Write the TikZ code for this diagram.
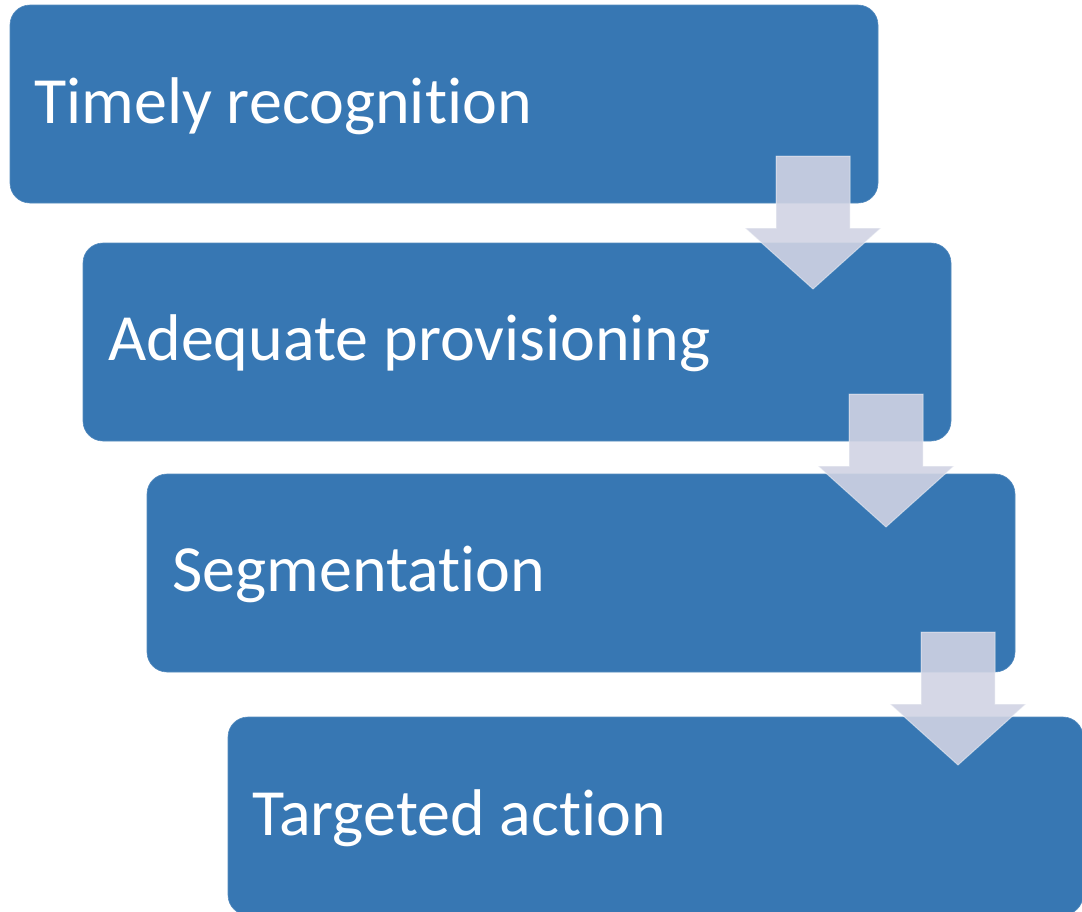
\documentclass[tikz,border=0pt]{standalone}
\usepackage{fontspec}
\setmainfont{Carlito}[RawFeature={-liga,-clig}]
\usetikzlibrary{calc}
\definecolor{boxblue}{HTML}{3777B3}
\definecolor{arrowfill}{HTML}{D0D3E3}
\tikzset{
  stepbox/.style={fill=boxblue, draw=boxblue!85!white, line width=0.6pt, rounded corners=20pt,
    minimum width=868pt, minimum height=198pt, inner sep=0pt, outer sep=0pt, anchor=north west},
  steptext/.style={text=white, font=\fontsize{66}{70}\selectfont, inner sep=0pt, anchor=base west},
  flowarrow/.style={fill=arrowfill, fill opacity=0.9, draw=white, draw opacity=0.45, line width=1pt}
}
\newcommand{\flowdown}[2]{%
  \path[flowarrow] (#1-37,-#2) -- (#1+37,-#2) -- (#1+37,-#2-72) -- (#1+68,-#2-72)
    -- (#1,-#2-133) -- (#1-68,-#2-72) -- (#1-37,-#2-72) -- cycle;}
\begin{document}
\begin{tikzpicture}[x=1pt,y=1pt]
\useasboundingbox (0,0) rectangle (1082,-911);
\clip (0,0) rectangle (1082,-911);
\node[stepbox] (b1) at (10,-5) {};
\node[stepbox] (b2) at (83,-243) {};
\node[stepbox] (b3) at (147,-474) {};
\node[stepbox, minimum width=855pt] (b4) at (228,-717) {};
\node[steptext] (t1) at ($(b1.west)+(24,-19)$) {Timely recognition};
\node[steptext] (t2) at ($(b2.west)+(25,-18)$) {Adequate provisioning};
\node[steptext] (t3) at ($(b3.west)+(25,-18)$) {Segmentation};
\node[steptext] (t4) at ($(b4.west)+(24,-19)$) {Targeted action};
\flowdown{813}{156}
\flowdown{886}{394}
\flowdown{958}{632}
\end{tikzpicture}
\end{document}
